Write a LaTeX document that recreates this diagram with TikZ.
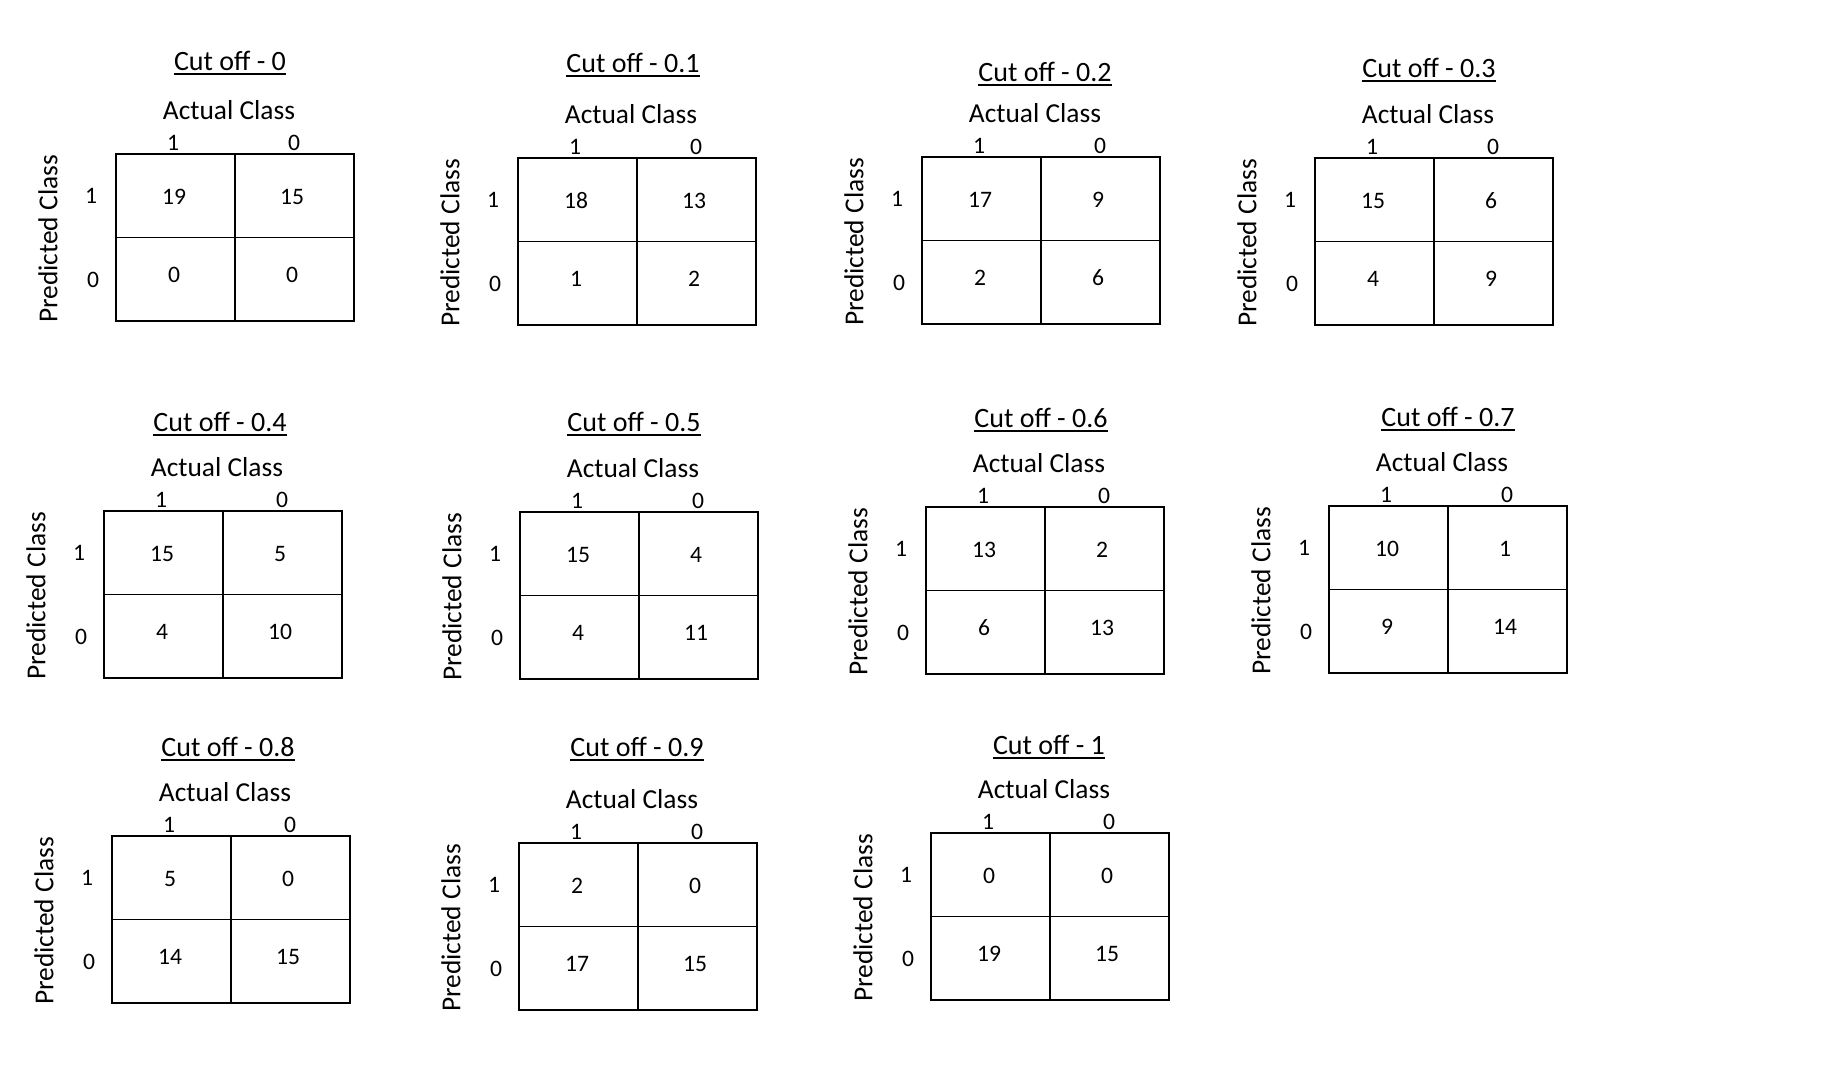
\documentclass[tikz,border=0pt]{standalone}
\usepackage{fontspec}
\setmainfont{Carlito}

\tikzset{
  cutlabel/.style={inner sep=0pt,font=\fontsize{14}{16}\selectfont},
  classlabel/.style={inner sep=0pt,font=\fontsize{13.7}{16}\selectfont},
  numlabel/.style={inner sep=0pt,font=\fontsize{11.8}{14}\selectfont},
  matbox/.style={draw,line width=0.6pt,minimum width=119pt,minimum height=83.5pt,inner sep=0pt}
}

\begin{document}
\begin{tikzpicture}[x=0.5pt,y=-0.5pt]
  \useasboundingbox (0,0) rectangle (1838,1074);
  % n / box x / box y / title x / title y / cut off / cells
  \foreach \n/\bx/\by/\tx/\ty/\cut/\a/\b/\c/\d in {
      1/116/154/114/93/0/19/15/0/0,
      2/518/158/115/95/0.1/18/13/1/2,
      3/922/157/123/85/0.2/17/9/2/6,
      4/1315/158/114/90/0.3/15/6/4/9,
      5/104/511/116/89/0.4/15/5/4/10,
      6/520/512/114/90/0.5/15/4/4/11,
      7/926/507/115/89/0.6/13/2/6/13,
      8/1329/506/119/89/0.7/10/1/9/14,
      9/112/836/116/89/0.8/5/0/14/15,
      10/519/843/118/96/0.9/2/0/17/15,
      11/931/833/118/88/1/0/0/19/15}
  {
    \node[matbox] (box\n) at ({\bx+119},{\by+83.5}) {};
    \draw[line width=0.6pt] (box\n.north) -- (box\n.south);
    \draw[line width=0.6pt] (box\n.west) -- (box\n.east);
    \node[cutlabel] (title\n) at ({\bx+\tx},{\by-\ty}) {Cut off - \cut};
    \draw[line width=1pt] ([yshift=-1.5pt]title\n.base west) -- ([yshift=-1.5pt]title\n.base east);
    \node[classlabel] (actual\n) at ({\bx+113},{\by-44}) {Actual Class};
    \node[classlabel,rotate=90] (pred\n) at ({\bx-68},{\by+85}) {Predicted Class};
    \node[numlabel] (colA\n) at ({\bx+57},{\by-11}) {1};
    \node[numlabel] (colB\n) at ({\bx+178},{\by-11}) {0};
    \node[numlabel] (rowA\n) at ({\bx-25},{\by+42}) {1};
    \node[numlabel] (rowB\n) at ({\bx-23},{\by+126}) {0};
    \node[numlabel] (tp\n) at ({\bx+58},{\by+43}) {\a};
    \node[numlabel] (fp\n) at ({\bx+176},{\by+43}) {\b};
    \node[numlabel] (fn\n) at ({\bx+58},{\by+121}) {\c};
    \node[numlabel] (tn\n) at ({\bx+176},{\by+121}) {\d};
  }
\end{tikzpicture}
\end{document}
